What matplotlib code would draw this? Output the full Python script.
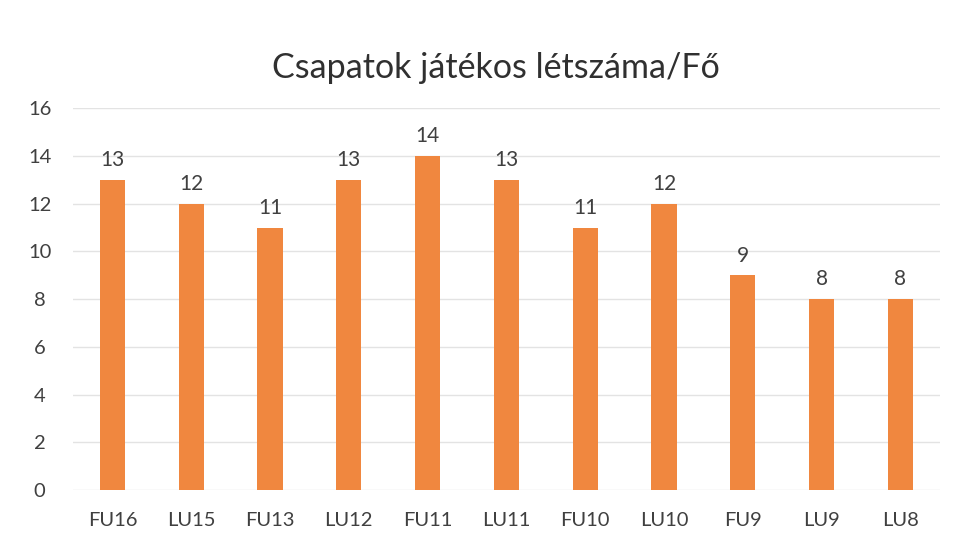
import matplotlib.pyplot as plt

plt.rcParams['font.family'] = ['Lato', 'DejaVu Sans']

teams = ['FU16', 'LU15', 'FU13', 'LU12', 'FU11', 'LU11', 'FU10', 'LU10', 'FU9', 'LU9', 'LU8']
players = [13, 12, 11, 13, 14, 13, 11, 12, 9, 8, 8]

fig = plt.figure(figsize=(9.54, 5.52), dpi=100)
ax = fig.add_axes([0.0765, 0.112, 0.9085, 0.692])

bars = ax.bar(teams, players, width=0.32, color='#F0873F', zorder=3)
for b, v in zip(bars, players):
    ax.annotate(str(v), (b.get_x() + b.get_width() / 2, v), xytext=(0, 7),
                textcoords='offset points', ha='center', va='bottom',
                fontsize=15, color='#404040')

ax.set_ylim(0, 16)
ax.set_xlim(-0.5, len(teams) - 0.5)
ax.set_yticks(range(0, 17, 2))
ax.grid(axis='y', color='#E3E3E3', linewidth=1, zorder=0)
for s in ax.spines.values():
    s.set_visible(False)
ax.tick_params(axis='both', length=0, labelsize=14.5, labelcolor='#404040')
ax.tick_params(axis='x', pad=16)
ax.tick_params(axis='y', pad=24)
for lbl in ax.get_yticklabels():
    lbl.set_horizontalalignment('center')

fig.text(0.52, 0.877, 'Csapatok játékos létszáma/Fő', ha='center', va='center',
         fontsize=24.5, color='#303030')

fig.savefig('out.png', dpi=100)
